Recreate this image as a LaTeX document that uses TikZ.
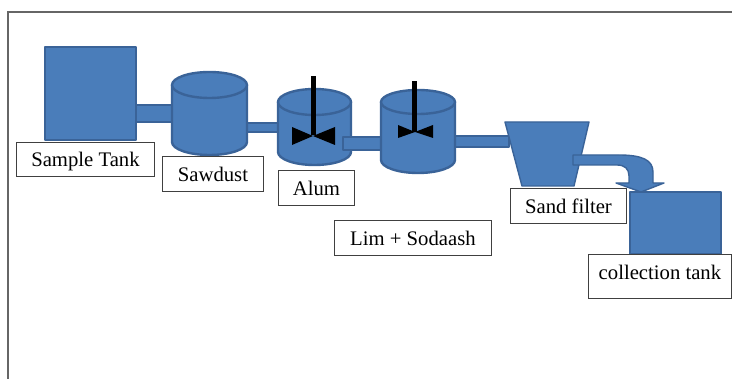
\documentclass[tikz,border=0pt]{standalone}
\usepackage{fontspec}
\setmainfont{Liberation Serif}
\definecolor{tankblue}{HTML}{4A7DBA}
\definecolor{tankedge}{HTML}{3A6398}

\begin{document}
\begin{tikzpicture}[x=1pt,y=-1pt]

\tikzset{tankpart/.style = {fill=tankblue, draw=tankedge, line width=2.4pt, line join=round}}
\tikzset{labelbox/.style = {draw=black!75, fill=white, line width=.9pt, inner sep=0pt, anchor=north west, text height=15pt, text depth=0pt, font=\fontsize{20.7}{24}\selectfont}}
\tikzset{stirrer/.style = {fill=black, draw=none}}

\useasboundingbox (0,0) rectangle (732,379);
\fill[white] (0,0) rectangle (732,379);

% frame
\draw[black!60, line width=1.2pt] (8,379) -- (8,12) -- (732,12);

% pipes behind the vessels
\draw[tankpart] (136,105) rectangle (174,122);
\draw[tankpart] (245,123) rectangle (280,132);
\draw[tankpart] (453,136) rectangle (509,147);

% sample tank
\draw[tankpart] (45,47) rectangle (136,140);

% sawdust
\draw[tankpart] (172,85) -- (172,142) arc[start angle=180, end angle=360, x radius=37.5pt, y radius=13pt] -- (247,85);
\draw[tankpart] (209.5,85) ellipse [x radius=37.5pt, y radius=13pt];

% alum
\draw[tankpart] (278,102) -- (278,152) arc[start angle=180, end angle=360, x radius=36.5pt, y radius=13pt] -- (351,102);
\draw[tankpart] (314.5,102) ellipse [x radius=36.5pt, y radius=13pt];
\fill[stirrer] (310.5,76) rectangle (315.5,135);
\fill[stirrer] (292,127) -- (313,136) -- (335,127) -- (335,145) -- (313,136) -- (292,145) -- cycle;

% pipe over alum
\draw[tankpart] (343,137) rectangle (383,150);

% second stirred vessel
\draw[tankpart] (381,102) -- (381,160) arc[start angle=180, end angle=360, x radius=37pt, y radius=13pt] -- (455,102);
\draw[tankpart] (418,102) ellipse [x radius=37pt, y radius=12pt];
\fill[stirrer] (411.5,81) rectangle (416.5,132);
\fill[stirrer] (398,125) -- (415,132) -- (433,125) -- (433,138) -- (415,132) -- (398,138) -- cycle;

% sand filter
\draw[tankpart, line width=1.4pt] (505,122) -- (589,122) -- (574,186) -- (522,186) -- cycle;

% collection tank
\draw[tankpart] (630,192) rectangle (721,254);

% outlet
\draw[tankpart, line width=1.4pt] (573,155) -- (619,155) .. controls (642,155) and (653,160) .. (653,172) -- (653,183) -- (664,183) -- (641,192) -- (616,183) -- (629,183) -- (629,176) .. controls (629,169) and (625,165) .. (617,165) -- (573,165) -- cycle;

% labels
\node[labelbox, minimum width=138pt, minimum height=34pt] (sampleLabel) at (16,142) {Sample Tank};
\node[labelbox, minimum width=101pt, minimum height=35pt] (sawdustLabel) at (162,156) {Sawdust};
\node[labelbox, minimum width=76pt, minimum height=35pt] (alumLabel) at (278,170) {Alum};
\node[labelbox, minimum width=157pt, minimum height=35pt] (limeLabel) at (334,220) {Lim + Sodaash};
\node[labelbox, minimum width=116pt, minimum height=35pt] (sandLabel) at (510,188) {Sand filter};
\node[labelbox, minimum width=143pt, minimum height=44pt, text depth=9pt] (collectionLabel) at (588,254) {collection tank};

\end{tikzpicture}
\end{document}
